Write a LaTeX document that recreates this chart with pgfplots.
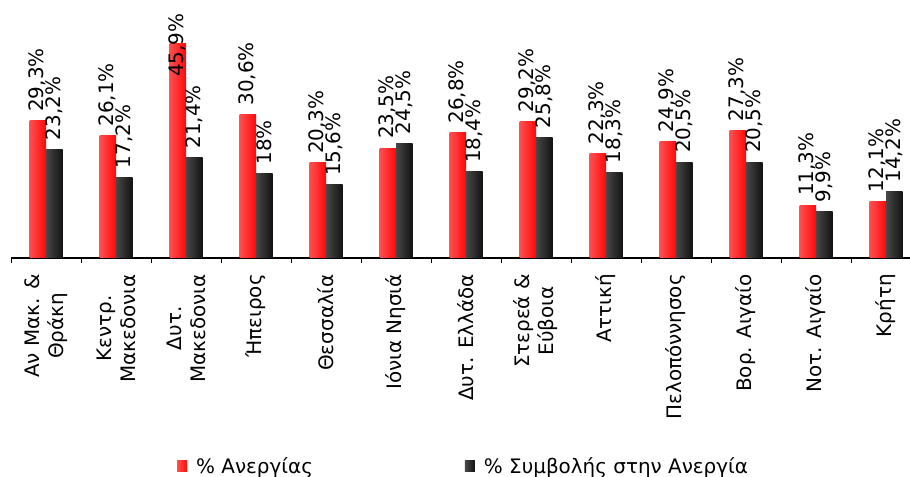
\documentclass[border=0pt]{standalone}
\usepackage{pgfplots}
\usepackage{pgfplotstable}
\pgfplotsset{compat=1.18}
\usepackage{fontspec}
\setmainfont{DejaVu Sans}
\definecolor{redL}{RGB}{255,80,80}
\definecolor{redR}{RGB}{255,8,8}
\definecolor{darkL}{RGB}{72,72,72}
\definecolor{darkR}{RGB}{18,18,18}
\newcommand{\lblfont}{\fontsize{20}{24}\selectfont}

% % Ανεργίας
\pgfplotstableread{
x y lbl
0 29.3 29,3\%
1 26.1 26,1\%
2 45.9 {}
3 30.6 30,6\%
4 20.3 20,3\%
5 23.5 23,5\%
6 26.8 26,8\%
7 29.2 29,2\%
8 22.3 22,3\%
9 24.9 24,9\%
10 27.3 27,3\%
11 11.3 11,3\%
12 12.1 12,1\%
}\anergia
% % Συμβολής στην Ανεργία
\pgfplotstableread{
x y lbl
0 23.2 23,2\%
1 17.2 17,2\%
2 21.4 21,4\%
3 18.0 18\%
4 15.6 15,6\%
5 24.5 24,5\%
6 18.4 18,4\%
7 25.8 25,8\%
8 18.3 18,3\%
9 20.5 20,5\%
10 20.5 20,5\%
11 9.9 9,9\%
12 14.2 14,2\%
}\symvoli

\begin{document}
\begin{tikzpicture}
\begin{axis}[
    at={(11bp,219bp)}, anchor=south west,
    scale only axis, width=910bp, height=258bp,
    xmin=-0.5, xmax=12.5, ymin=0, ymax=55.13,
    clip=false,
    ybar=0pt, bar width=16.5bp,
    axis x line*=bottom, axis y line=none,
    axis line style={line width=1.2bp},
    xtick={0,...,12},
    xticklabels={{Αν Μακ. \&\\Θράκη},{Κεντρ.\\Μακεδονια},{Δυτ.\\Μακεδονια},Ήπειρος,Θεσσαλία,Ιόνια Νησιά,Δυτ. Ελλάδα,{Στερεά \&\\Εύβοια},Αττική,Πελοπόννησος,Βορ. Αιγαίο,Νοτ. Αιγαίο,Κρήτη},
    major tick length=0pt,
    minor xtick={-0.5,0.5,...,12.5},
    minor tick length=5bp,
    tick align=outside,
    minor tick style={line width=1bp, black},
    xticklabel style={rotate=90, anchor=east, align=center, inner sep=0pt, font=\lblfont},
    xticklabel shift=16bp,
    point meta=explicit symbolic,
    nodes near coords,
    every node near coord/.append style={rotate=90, anchor=west, inner xsep=9bp, inner ysep=0pt, font=\lblfont, black},
    legend columns=2,
    legend style={at={(rel axis cs:0.1824,-0.806)}, anchor=west, draw=none, fill=none, inner sep=0pt, font=\lblfont,
      /tikz/every even column/.append style={column sep=150bp}},
    legend image code/.code={\path[#1,draw=none] (0bp,-5.5bp) rectangle (10bp,5.5bp); \path[draw=none,fill=none] (0bp,0bp) -- (17bp,0bp);},
]
\pgfplotsinvokeforeach{0,...,12}{
  \addplot[draw=none, left color=redL, right color=redR, bar shift=-8.25bp, forget plot,
    restrict x to domain=#1:#1] table[x=x, y=y, meta=lbl] {\anergia};
  \addplot[draw=none, left color=darkL, right color=darkR, bar shift=8.25bp, forget plot,
    restrict x to domain=#1:#1] table[x=x, y=y, meta=lbl] {\symvoli};
}
\addlegendimage{draw=none, left color=redL, right color=redR}
\addlegendentry{\% Ανεργίας}
\addlegendimage{draw=none, left color=darkL, right color=darkR}
\addlegendentry{\% Συμβολής στην Ανεργία}
\node[rotate=90, anchor=west, inner sep=0pt, font=\lblfont] at ([xshift=-8.25bp]axis cs:2,38.7) {45,9\%};
\end{axis}
\pgfresetboundingbox
\path[use as bounding box] (0,0) rectangle (910bp,477bp);
\end{tikzpicture}
\end{document}
